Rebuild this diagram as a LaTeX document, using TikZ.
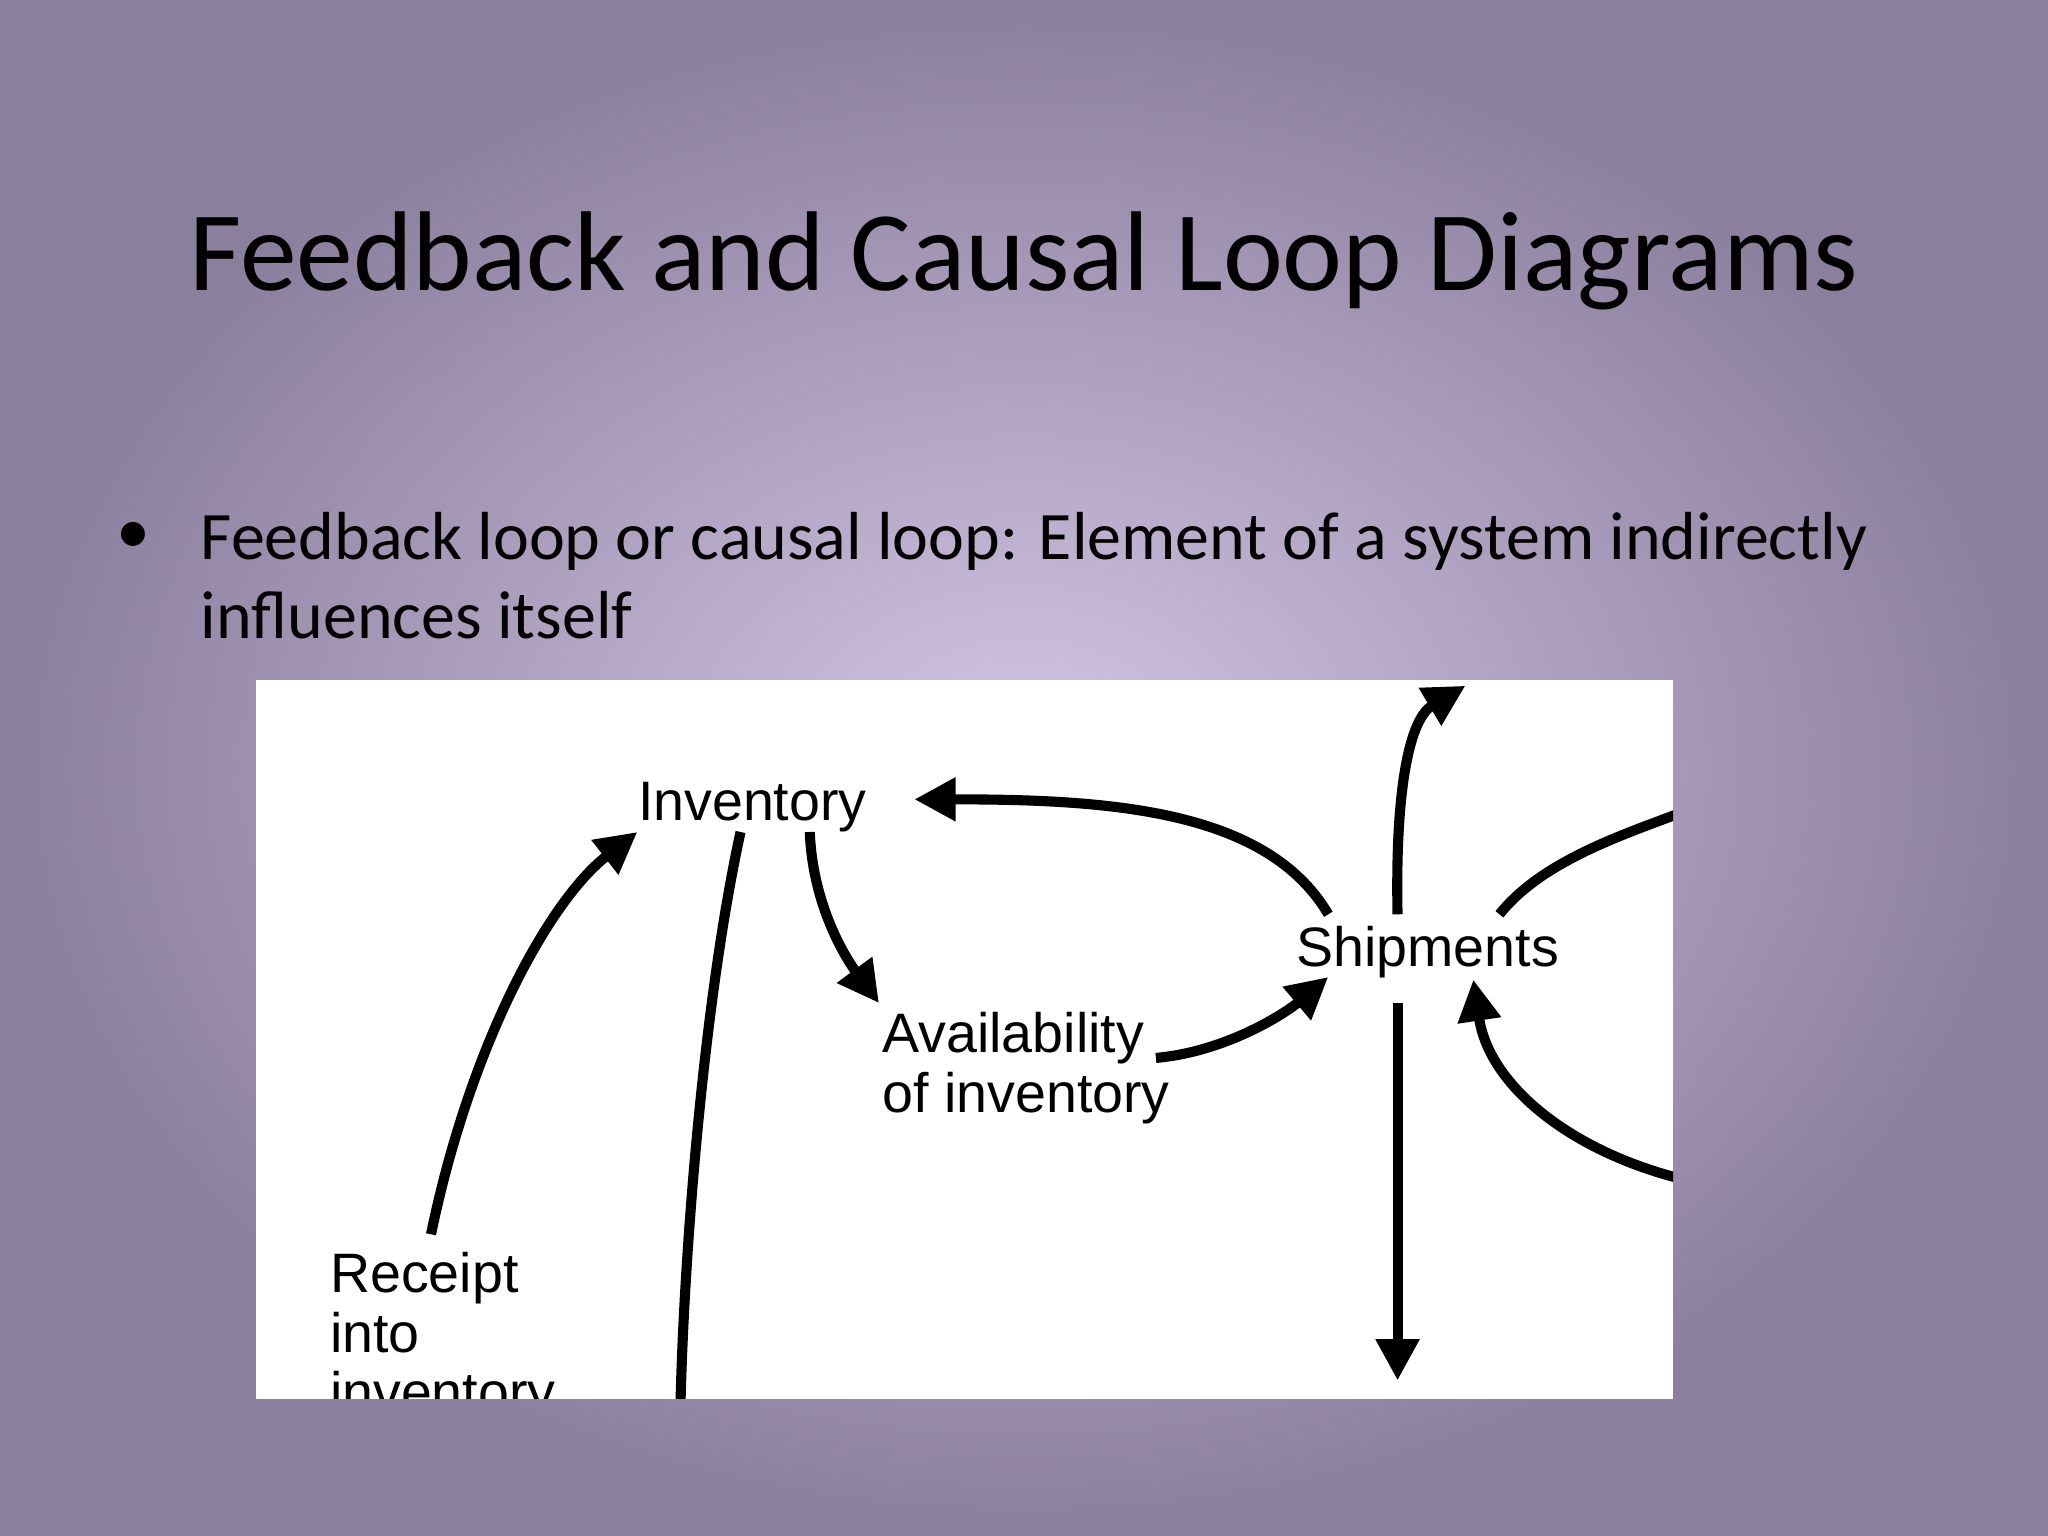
\documentclass[tikz,border=0pt]{standalone}
\usepackage{fontspec}
\setmainfont{Carlito}
\newfontfamily\diag{Liberation Sans}
\usetikzlibrary{arrows.meta}
\definecolor{bgin}{HTML}{D4C6E6}
\definecolor{bgout}{HTML}{8A7F9C}
\tikzset{
  lbl/.style={font=\diag\fontsize{12.1}{13}\selectfont, inner sep=0pt},
  bt/.style={font=\fontsize{14.8}{18}\selectfont, inner sep=0pt, anchor=base west},
  cl/.style={line width=2.2pt, -{Triangle[length=9pt,width=9pt]}},
  plain/.style={line width=2.2pt}
}
\begin{document}
\begin{tikzpicture}[x=0.01cm,y=-0.01cm]
\useasboundingbox (0,0) rectangle (1568,1176);
\shade[inner color=bgin, outer color=bgout] (0,0) rectangle (1568,1176);
\node[font=\fontsize{24.7}{30}\selectfont, inner sep=0pt] (title) at (784,200) {Feedback and Causal Loop Diagrams};
\node[font=\fontsize{14.8}{18}\selectfont, inner sep=0pt] (dot) at (102,412) {•};
\node[bt] (bul1) at (153,428) {Feedback loop or causal loop: Element of a system indirectly};
\node[bt] (bul2) at (153,489) {influences itself};
\fill[white] (196,521) rectangle (1281,1071);
\begin{scope}
\clip (196,521) rectangle (1281,1071);
\node[lbl] (inv) at (576,618) {Inventory};
\node[lbl, anchor=west, align=left] (avail) at (675,818) {Availability\\of inventory};
\node[lbl] (ship) at (1093,729) {Shipments};
\node[lbl, anchor=north west, align=left] (rec) at (252,958) {Receipt\\into\\inventory};
\coordinate (r0) at (330,945); \coordinate (r1) at (488,637);
\coordinate (a0) at (567,637); \coordinate (a1) at (521,1075);
\coordinate (b0) at (620,637); \coordinate (b1) at (673,768);
\coordinate (c0) at (885,810); \coordinate (c1) at (1017,748);
\coordinate (d0) at (1017,700); \coordinate (d1) at (700,612);
\coordinate (e0) at (1070,700); \coordinate (e1) at (1122,525);
\coordinate (f0) at (1070,768); \coordinate (f1) at (1070,1057);
\coordinate (g0) at (1148,700); \coordinate (g1) at (1285,623);
\coordinate (h0) at (1285,902); \coordinate (h1) at (1128,750);
\draw[cl] (r0) .. controls (360,800) and (420,690) .. (r1);
\draw[plain] (a0) .. controls (540,760) and (524,950) .. (a1);
\draw[cl] (b0) .. controls (622,690) and (645,730) .. (b1);
\draw[cl] (c0) .. controls (940,805) and (985,775) .. (c1);
\draw[cl] (d0) .. controls (970,620) and (850,612) .. (d1);
\draw[cl] (e0) .. controls (1068,600) and (1080,550) .. (e1);
\draw[cl] (f0) -- (f1);
\draw[plain] (g0) .. controls (1180,660) and (1240,640) .. (g1);
\draw[cl] (h0) .. controls (1200,880) and (1140,830) .. (h1);
\end{scope}
\end{tikzpicture}
\end{document}
